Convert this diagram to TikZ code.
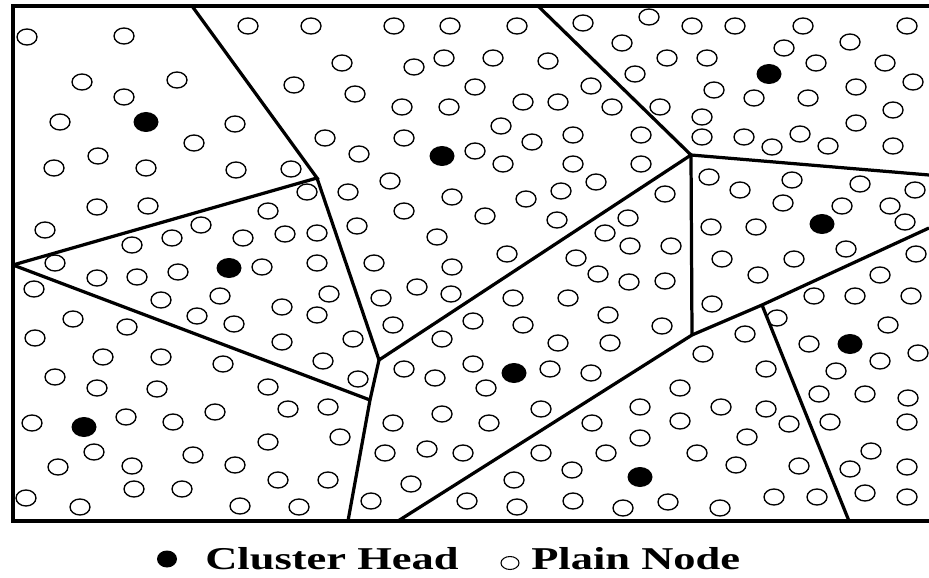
\documentclass[tikz,border=0pt]{standalone}
\usepackage{fontspec}
\setmainfont{Liberation Serif}
\usetikzlibrary{calc,positioning}
\tikzset{
  plainnode/.style={draw,line width=0.95pt},
  headnode/.style={fill=black},
  border/.style={line width=2.9pt},
  cut/.style={line width=2.3pt,line join=miter},
  legend/.style={font=\bfseries\fontsize{22.6}{26}\selectfont,inner sep=0pt}
}
\newcommand{\legendtext}[1]{\scalebox{1.4}[1]{#1}}

\begin{document}
\begin{tikzpicture}[x=0.025cm,y=-0.025cm]
\useasboundingbox (0,0) rectangle (929,578);

% corners of the cells
\coordinate (A) at (192,6);
\coordinate (B) at (317,178);
\coordinate (C) at (13,265);
\coordinate (D) at (379,360);
\coordinate (E) at (370,400);
\coordinate (F) at (348,521);
\coordinate (G) at (691,155);
\coordinate (H) at (538,6);
\coordinate (I) at (929,175);
\coordinate (J) at (692,335);
\coordinate (M) at (762,305);
\coordinate (N) at (398,521);
\coordinate (P) at (849,521);
\coordinate (R) at (929,228);

% field border (open on the right)
\draw[border] (929,6) -- (13,6) -- (13,521) -- (929,521);

% cell walls
\draw[cut] (A) -- (B) -- (C);
\draw[cut] (B) -- (D) -- (E) -- (F);
\draw[cut] (C) -- (E);
\draw[cut] (D) -- (G) -- (H);
\draw[cut] (G) -- (I);
\draw[cut] (G) -- (J);
\draw[cut] (N) -- (J) -- (M) -- (R);
\draw[cut] (M) -- (P);

% plain nodes
\foreach \x/\y in {27/37,124/36,248/26,82/82,177/80,294/85,124/97,60/122,235/124,194/143,
  98/156,54/168,146/168,236/170,291/169,307/192,97/207,148/206,268/211,45/230,201/225,
  172/238,243/238,285/234,132/245,
  311/26,394/26,450/26,517/26,583/23,342/63,414/67,444/58,493/58,548/61,355/94,402/107,
  449/107,475/87,523/102,558/102,591/86,612/107,325/138,404/138,359/154,475/151,501/126,
  532/142,573/135,503/164,573/164,596/182,390/181,348/192,452/197,526/199,561/191,404/211,
  485/216,557/220,357/226,317/233,437/237,507/254,605/233,576/258,
  649/17,692/26,735/26,803/26,907/26,622/43,784/48,850/42,667/58,707/58,635/74,816/63,
  885/63,913/82,714/90,754/98,808/98,856/87,893/110,660/107,702/117,856/123,641/135,
  702/137,744/137,772/147,800/134,828/146,893/146,641/164,709/177,740/190,792/180,860/184,
  915/190,665/194,783/203,842/206,890/206,905/222,628/218,630/246,671/246,711/227,756/227,
  846/249,916/254,722/259,794/259,
  629/282,665/281,758/275,880/275,662/326,712/304,814/296,855/296,911/296,777/318,888/325,
  745/334,809/344,918/353,703/354,766/369,836/371,880/361,680/388,819/394,865/394,908/398,
  640/407,721/407,766/409,789/424,680/421,830/422,907/422,640/438,747/437,697/453,736/465,
  799/466,871/451,850/469,907/467,668/502,623/508,720/508,774/497,817/497,865/493,907/497,
  317/263,374/263,452/267,598/274,329/294,381/298,417/287,451/294,513/298,568/298,317/315,
  393/325,473/321,523/325,608/315,353/339,442/339,558/343,610/343,323/361,404/369,435/378,
  473/364,550/369,591/373,358/379,486/388,328/407,442/414,393/423,489/423,541/409,592/423,
  340/437,385/453,427/449,463/453,541/453,606/453,572/470,328/480,411/484,514/480,371/501,
  467/501,517/507,573/501,
  55/263,97/278,137/277,178/272,262/267,34/289,161/300,220/296,282/307,73/319,127/327,
  197/316,234/324,282/342,35/338,103/357,161/357,223/364,55/377,97/388,157/389,268/387,
  288/409,215/412,32/423,126/417,173/422,268/442,193/455,94/452,58/467,132/466,235/465,
  278/480,134/489,182/489,26/498,80/507,240/506,299/507}
  \draw[plainnode] (\x,\y) ellipse (10 and 8);

% cluster heads
\foreach \x/\y in {146/122,442/156,769/74,229/268,822/224,850/344,514/373,84/427,640/477}
  \fill[headnode] (\x,\y) ellipse (12.5 and 10);

% legend
\fill[headnode] (167,559) ellipse (10 and 8.5);
\node[legend,anchor=base west] (headtext) at (205,569) {\legendtext{Cluster Head}};
\draw[line width=0.75pt] (510,563) ellipse (9 and 6.5);
\node[legend,anchor=base west] (plaintext) at (531,569) {\legendtext{Plain Node}};
\end{tikzpicture}
\end{document}
